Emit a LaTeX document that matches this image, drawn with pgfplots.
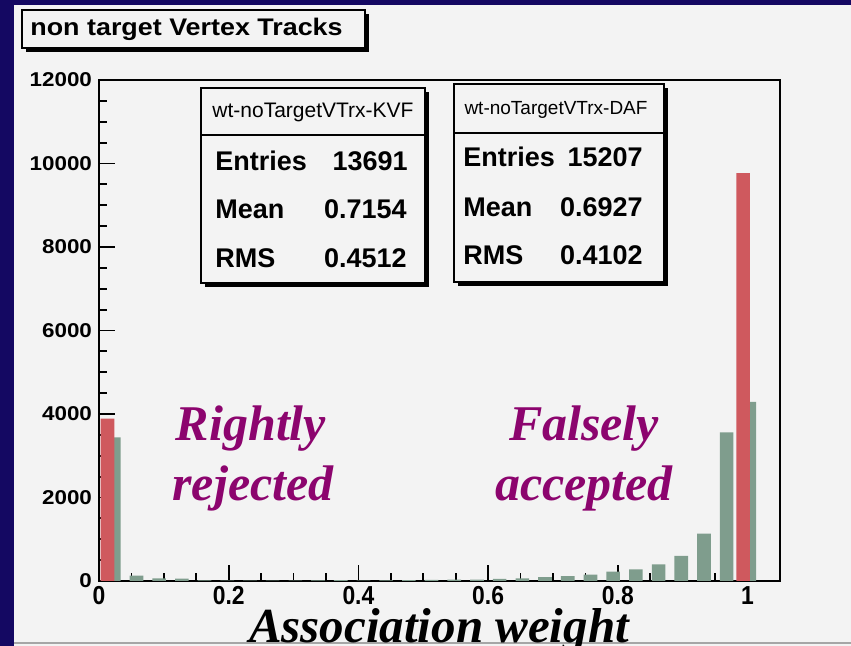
\documentclass[border=0pt]{standalone}
\usepackage{pgfplots}
\pgfplotsset{compat=1.18}
\usepackage{pgfplotstable}
\usepackage{fontspec}
\setmainfont{Liberation Sans}
\newfontfamily\hvw{Liberation Sans}[FakeStretch=1.12]
\newfontfamily\hvn{Liberation Sans}[FakeStretch=0.88]
\newfontfamily\tnr{Liberation Serif}

\definecolor{navy}{RGB}{20,8,98}
\definecolor{panel}{RGB}{243,243,243}
\definecolor{kvf}{RGB}{207,89,94}
\definecolor{daf}{RGB}{127,157,141}
\definecolor{note}{RGB}{140,4,110}

% DAF weights, 30 bins of 0.035 (lower edge, counts)
\pgfplotstableread{
lo    n
0.000 3440
0.035 130
0.070 60
0.105 55
0.140 15
0.175 10
0.210 10
0.245 10
0.280 10
0.315 15
0.350 20
0.385 10
0.420 15
0.455 20
0.490 25
0.525 30
0.560 30
0.595 50
0.630 65
0.665 90
0.700 115
0.735 155
0.770 225
0.805 280
0.840 400
0.875 600
0.910 1135
0.945 3560
0.980 4290
}\dafdata

\begin{document}
\begin{tikzpicture}
\useasboundingbox (0,0) rectangle (425.5pt,323pt);
\fill[navy] (0,0) rectangle (425.5pt,323pt);
\begin{scope}[x=0.5pt,y=-0.5pt,yshift=323pt]
  \fill[panel] (14,5) rectangle (851,646);
  \draw[gray!70, line width=1pt] (14,643) -- (851,643);
  % title box
  \fill[black] (26,14) rectangle (369,52);
  \filldraw[fill=panel, draw=black, line width=1pt] (22,10) rectangle (365,48);
  \node[anchor=base west, inner sep=0, font=\hvw\bfseries\fontsize{12}{14}\selectfont] at (30,36) {non target Vertex Tracks};
\end{scope}

\begin{axis}[
    at={(49.5pt,32.5pt)}, anchor=south west,
    scale only axis,
    width=340.5pt, height=250.5pt,
    xmin=0, xmax=1.05,
    ymin=0, ymax=12000,
    xtick={0,0.2,0.4,0.6,0.8,1},
    ytick={0,2000,4000,6000,8000,10000,12000},
    minor x tick num=3,
    minor y tick num=3,
    scaled y ticks=false,
    tick align=inside,
    xtick pos=bottom, ytick pos=left,
    major tick length=8pt, minor tick length=4pt,
    tick style={black, line width=0.9pt},
    axis line style={black, line width=1.2pt},
    /pgf/number format/assume math mode=true,
    /pgf/number format/1000 sep={},
    xticklabel style={font=\hvn\bfseries\fontsize{13}{15}\selectfont, inner sep=2.5pt},
    yticklabel style={font=\hvw\bfseries\fontsize{10}{12}\selectfont},
]
\addplot[ybar, bar width=0.021, bar shift=0pt, fill=daf, draw=none]
    table[x expr=\thisrow{lo}+0.02275, y=n] {\dafdata};
\addplot[ybar, bar width=0.021, bar shift=0pt, fill=kvf, draw=none]
    coordinates {(0.0131,3890) (0.9931,9770)};
\end{axis}

\begin{scope}[x=0.5pt,y=-0.5pt,yshift=323pt]
  % KVF stat box
  \fill[black] (205,92) rectangle (429,287);
  \filldraw[fill=panel, draw=black, line width=1pt] (201,88) rectangle (425,283);
  \draw[black, line width=0.8pt] (201,135) -- (425,135);
  \node[anchor=base, inner sep=0, font=\fontsize{10.5}{12}\selectfont] at (313,118) {wt-noTargetVTrx-KVF};
  \begin{scope}[every node/.style={inner sep=0, font=\bfseries\fontsize{13.5}{16}\selectfont}]
    \node[anchor=base west] at (215,171) {Entries};
    \node[anchor=base east] at (408,171) {13691};
    \node[anchor=base west] at (215,219) {Mean};
    \node[anchor=base east] at (407,219) {0.7154};
    \node[anchor=base west] at (215,268) {RMS};
    \node[anchor=base east] at (407,268) {0.4512};
  \end{scope}
  % DAF stat box
  \fill[black] (458,88) rectangle (668,286);
  \filldraw[fill=panel, draw=black, line width=1pt] (454,84) rectangle (664,282);
  \draw[black, line width=0.8pt] (454,133) -- (664,133);
  \node[anchor=base, inner sep=0, font=\fontsize{9.5}{11}\selectfont] at (556,115) {wt-noTargetVTrx-DAF};
  \begin{scope}[every node/.style={inner sep=0, font=\bfseries\fontsize{13.5}{16}\selectfont}]
    \node[anchor=base west] at (463,167) {Entries};
    \node[anchor=base east] at (643,167) {15207};
    \node[anchor=base west] at (463,217) {Mean};
    \node[anchor=base east] at (643,217) {0.6927};
    \node[anchor=base west] at (463,265) {RMS};
    \node[anchor=base east] at (643,265) {0.4102};
  \end{scope}
  % annotations
  \begin{scope}[every node/.style={inner sep=0, text=note, font=\tnr\bfseries\itshape\fontsize{25}{30}\selectfont}]
    \node[anchor=base] at (251,441) {Rightly};
    \node[anchor=base] at (253,501) {rejected};
    \node[anchor=base] at (584,441) {Falsely};
    \node[anchor=base] at (584,501) {accepted};
  \end{scope}
  \node[anchor=base, inner sep=0, font=\tnr\bfseries\itshape\fontsize{24.5}{30}\selectfont] at (439,643) {Association weight};
\end{scope}
\end{tikzpicture}
\end{document}
